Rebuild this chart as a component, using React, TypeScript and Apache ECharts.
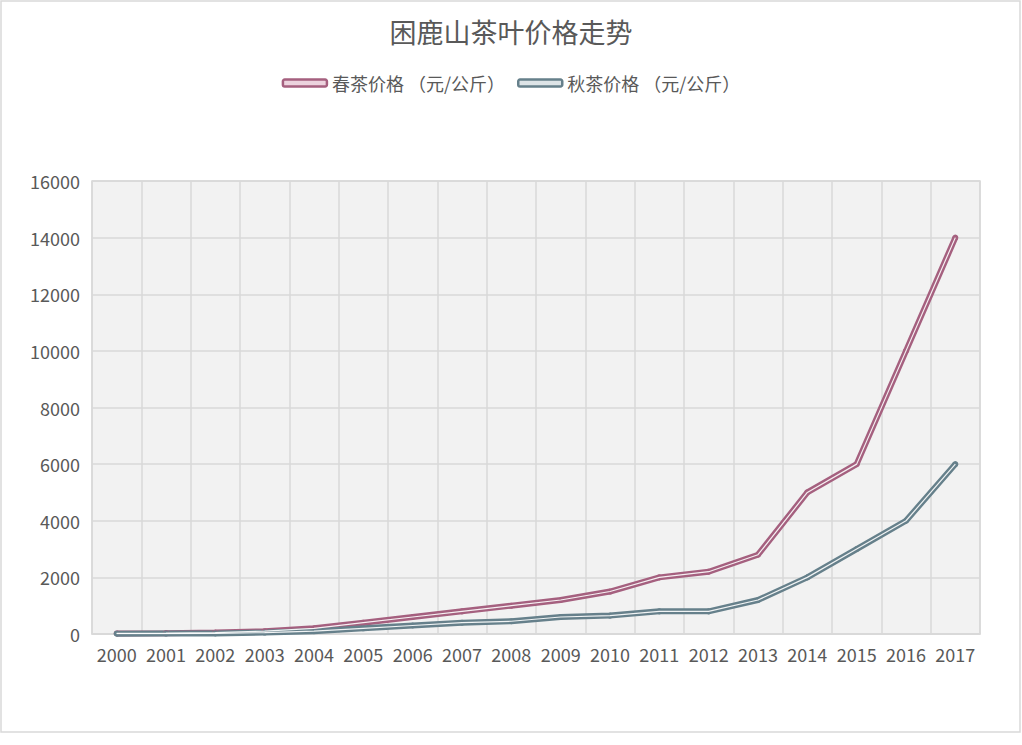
import React, { useEffect, useRef } from "react";
import * as echarts from "echarts";

const years = ["2000","2001","2002","2003","2004","2005","2006","2007","2008","2009","2010","2011","2012","2013","2014","2015","2016","2017"];
const springPrice = [20, 30, 50, 100, 200, 400, 600, 800, 1000, 1200, 1500, 2000, 2200, 2800, 5000, 6000, 10000, 14000];
const autumnPrice = [10, 15, 20, 50, 100, 200, 300, 400, 450, 600, 650, 800, 800, 1200, 2000, 3000, 4000, 6000];
const springName = "春茶价格 （元/公斤）";
const autumnName = "秋茶价格 （元/公斤）";
const titleText = "困鹿山茶叶价格走势";

const PINK = "#a5607f";
const GREY = "#66808b";
const FONT = "'Noto Sans CJK SC', 'Noto Sans', sans-serif";

export default function App() {
  const ref = useRef<HTMLDivElement>(null);
  useEffect(() => {
    document.body.style.margin = "0";
    const chart = echarts.init(ref.current!, undefined, { renderer: "svg" });
    const mainLine = (name: string, data: number[], color: string) => ({
      name,
      type: "line",
      data,
      symbol: "circle",
      symbolSize: 6,
      itemStyle: { color },
      lineStyle: { color, width: 6 },
      z: 2,
    });
    const innerLine = (name: string, data: number[]) => ({
      name,
      type: "line",
      data,
      symbol: "none",
      lineStyle: { color: "#ffffff", width: 1.2, opacity: 0.9 },
      silent: true,
      z: 3,
    });
    chart.setOption({
      animation: false,
      backgroundColor: "#ffffff",
      textStyle: { fontFamily: FONT },
      graphic: [
        {
          type: "rect",
          shape: { x: 1, y: 1, width: 1019, height: 731 },
          style: { fill: "none", stroke: "#d9d9d9", lineWidth: 1.5 },
          z: -1,
        },
      ],
      title: {
        text: titleText,
        left: "center",
        top: 13,
        textStyle: { fontSize: 27, fontWeight: "normal", color: "#595959", fontFamily: FONT },
      },
      legend: {
        data: [
          { name: springName, itemStyle: { color: "#ecd3de", borderColor: PINK, borderWidth: 2.5 } },
          { name: autumnName, itemStyle: { color: "#dde4e7", borderColor: GREY, borderWidth: 2.5 } },
        ],
        top: 69,
        left: "center",
        icon: "roundRect",
        itemWidth: 44,
        itemHeight: 7,
        itemGap: 12,
        textStyle: { fontSize: 18, color: "#595959", fontFamily: FONT },
      },
      grid: {
        left: 92,
        right: 42,
        top: 181,
        bottom: 111,
        show: true,
        backgroundColor: "#f2f2f2",
        borderColor: "#d9d9d9",
        borderWidth: 1.5,
      },
      xAxis: {
        type: "category",
        data: years,
        boundaryGap: true,
        axisTick: { show: false },
        axisLine: { lineStyle: { color: "#d9d9d9", width: 1.5 } },
        splitLine: { show: true, interval: 0, lineStyle: { color: "#d9d9d9", width: 1.5 } },
        axisLabel: { interval: 0, fontSize: 18, color: "#595959", margin: 11, fontFamily: FONT },
      },
      yAxis: {
        type: "value",
        min: 0,
        max: 16000,
        interval: 2000,
        axisLine: { show: false },
        axisTick: { show: false },
        splitLine: { lineStyle: { color: "#d9d9d9", width: 1.5 } },
        axisLabel: {
          fontSize: 18,
          color: "#595959",
          margin: 12,
          fontFamily: FONT,
          formatter: (v: number) => String(v),
        },
      },
      series: [
        mainLine(springName, springPrice, PINK),
        mainLine(autumnName, autumnPrice, GREY),
        innerLine("spring-inner", springPrice),
        innerLine("autumn-inner", autumnPrice),
      ],
    });
    return () => chart.dispose();
  }, []);
  return <div ref={ref} style={{ position: "absolute", left: 0, top: 0, width: 1022, height: 745 }} />;
}
